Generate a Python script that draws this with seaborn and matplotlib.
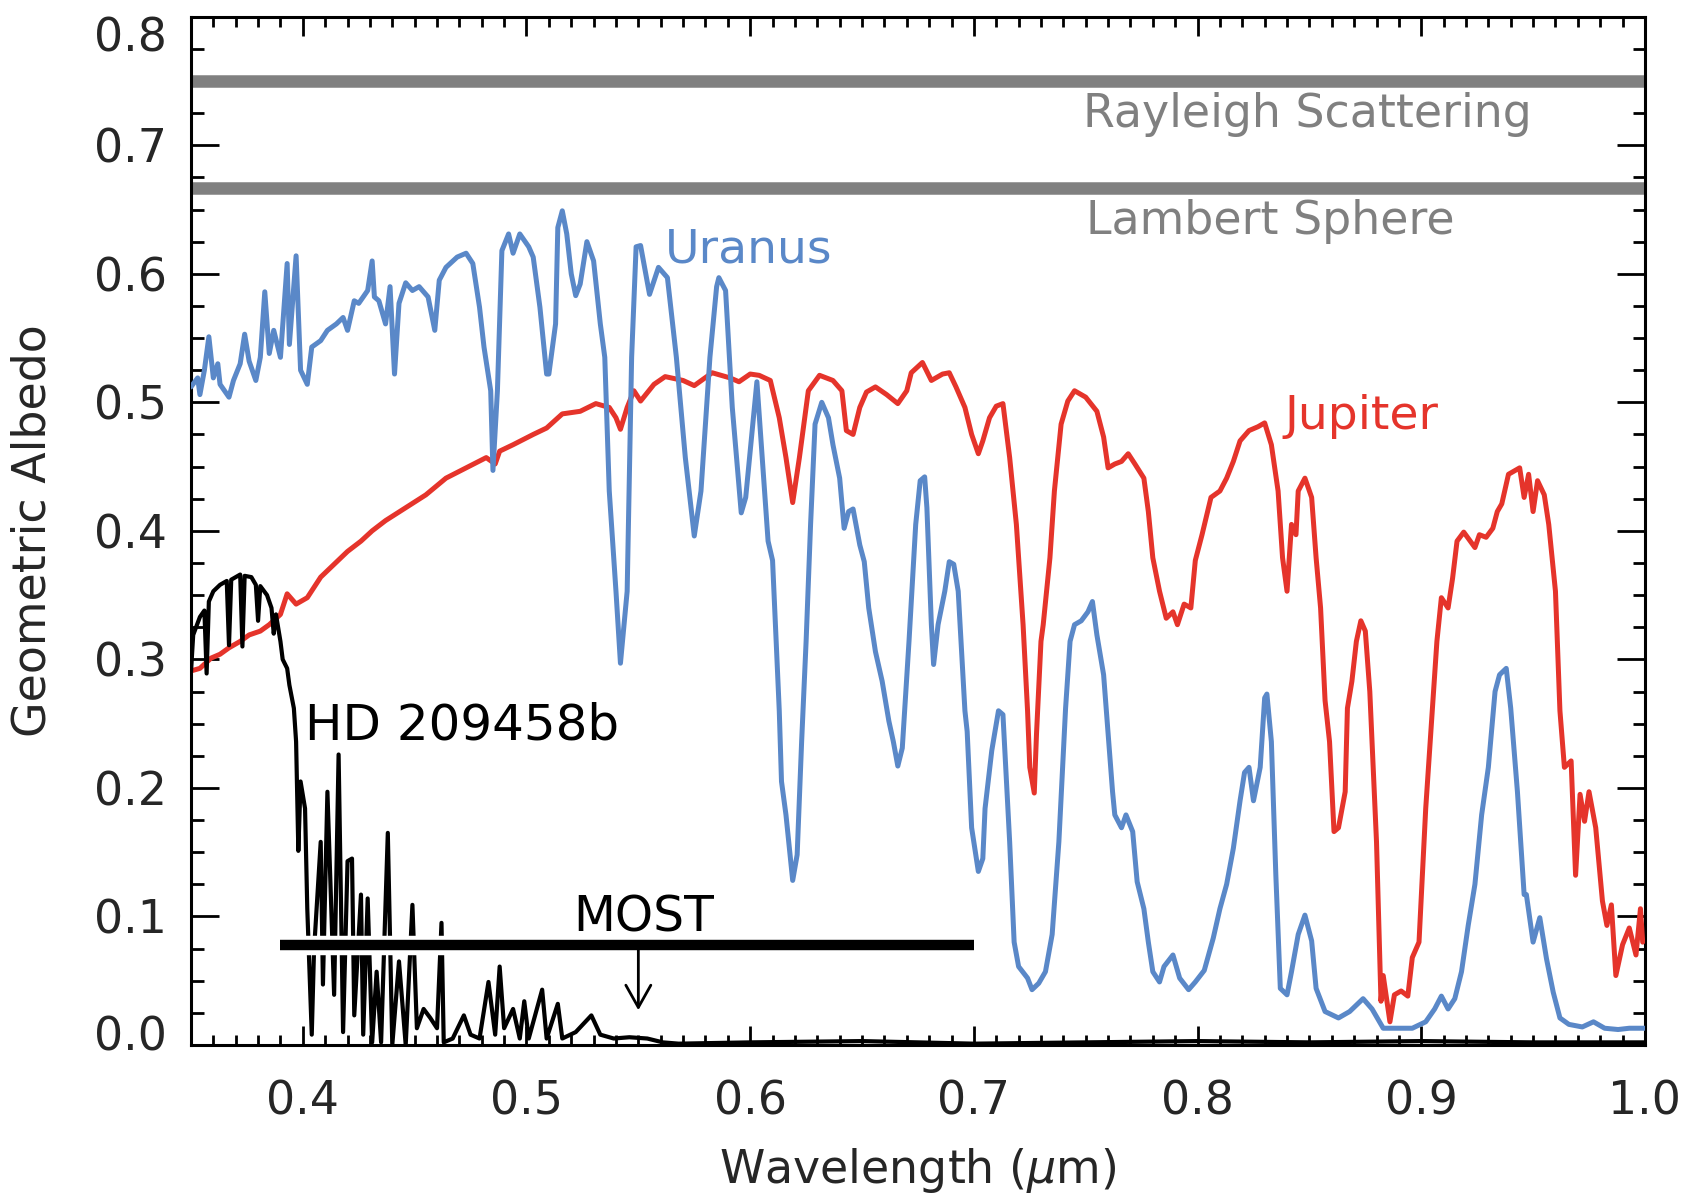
import matplotlib
matplotlib.use("Agg")
import matplotlib.pyplot as plt
import matplotlib.patheffects as pe
from matplotlib.ticker import MultipleLocator, FormatStrFormatter
from matplotlib.transforms import ScaledTranslation
import seaborn as sns
import pandas as pd

# geometric albedo spectra: (wavelength um, albedo)
uranus = [
    (0.350, 0.512), (0.353, 0.519), (0.354, 0.506), (0.356, 0.525), (0.358, 0.551),
    (0.360, 0.519), (0.362, 0.530), (0.363, 0.514), (0.365, 0.509), (0.367, 0.504),
    (0.369, 0.517), (0.372, 0.530), (0.374, 0.553), (0.376, 0.532), (0.379, 0.517),
    (0.381, 0.535), (0.383, 0.586), (0.385, 0.538), (0.387, 0.556), (0.390, 0.535),
    (0.393, 0.608), (0.394, 0.545), (0.397, 0.614), (0.399, 0.525), (0.402, 0.514),
    (0.404, 0.543), (0.408, 0.548), (0.411, 0.556), (0.415, 0.561), (0.418, 0.566),
    (0.420, 0.556), (0.423, 0.579), (0.425, 0.577), (0.429, 0.587), (0.431, 0.610),
    (0.432, 0.582), (0.434, 0.579), (0.437, 0.561), (0.439, 0.590), (0.441, 0.522),
    (0.443, 0.577), (0.446, 0.593), (0.449, 0.587), (0.452, 0.590), (0.456, 0.582),
    (0.459, 0.556), (0.461, 0.595), (0.464, 0.605), (0.469, 0.613), (0.473, 0.616),
    (0.476, 0.608), (0.479, 0.574), (0.481, 0.543), (0.484, 0.509), (0.485, 0.447),
    (0.487, 0.509), (0.489, 0.618), (0.492, 0.631), (0.494, 0.616), (0.497, 0.631),
    (0.501, 0.621), (0.503, 0.613), (0.506, 0.574), (0.509, 0.522), (0.510, 0.522),
    (0.513, 0.561), (0.514, 0.636), (0.516, 0.649), (0.518, 0.631), (0.520, 0.600),
    (0.522, 0.583), (0.524, 0.592), (0.527, 0.625), (0.530, 0.610), (0.533, 0.561),
    (0.535, 0.535), (0.537, 0.431), (0.540, 0.353), (0.542, 0.297), (0.545, 0.353),
    (0.547, 0.535), (0.549, 0.621), (0.551, 0.622), (0.555, 0.584), (0.559, 0.605),
    (0.563, 0.597), (0.567, 0.535), (0.571, 0.457), (0.575, 0.396), (0.578, 0.431),
    (0.582, 0.535), (0.585, 0.590), (0.586, 0.597), (0.589, 0.587), (0.592, 0.496),
    (0.596, 0.414), (0.598, 0.426), (0.603, 0.516), (0.608, 0.392), (0.610, 0.377),
    (0.613, 0.260), (0.614, 0.205), (0.616, 0.179), (0.619, 0.128), (0.621, 0.148),
    (0.623, 0.236), (0.625, 0.314), (0.627, 0.405), (0.629, 0.483), (0.632, 0.500),
    (0.635, 0.488), (0.637, 0.467), (0.640, 0.441), (0.642, 0.402), (0.644, 0.415),
    (0.646, 0.417), (0.649, 0.389), (0.651, 0.376), (0.653, 0.340), (0.656, 0.306),
    (0.659, 0.283), (0.662, 0.252), (0.664, 0.236), (0.666, 0.217), (0.668, 0.231),
    (0.671, 0.314), (0.674, 0.405), (0.676, 0.439), (0.678, 0.442), (0.679, 0.418),
    (0.681, 0.327), (0.682, 0.296), (0.684, 0.327), (0.687, 0.353), (0.689, 0.376),
    (0.691, 0.374), (0.693, 0.353), (0.696, 0.260), (0.697, 0.244), (0.699, 0.169),
    (0.702, 0.135), (0.704, 0.145), (0.705, 0.184), (0.708, 0.229), (0.711, 0.260),
    (0.713, 0.257), (0.716, 0.158), (0.718, 0.080), (0.720, 0.061), (0.724, 0.052),
    (0.726, 0.043), (0.729, 0.048), (0.732, 0.057), (0.735, 0.086), (0.738, 0.158),
    (0.741, 0.262), (0.743, 0.314), (0.745, 0.327), (0.748, 0.330), (0.751, 0.337),
    (0.753, 0.345), (0.755, 0.319), (0.758, 0.288), (0.762, 0.197), (0.763, 0.179),
    (0.766, 0.169), (0.768, 0.179), (0.771, 0.166), (0.773, 0.127), (0.776, 0.106),
    (0.778, 0.080), (0.780, 0.057), (0.783, 0.049), (0.785, 0.061), (0.789, 0.070),
    (0.792, 0.052), (0.796, 0.043), (0.799, 0.049), (0.803, 0.058), (0.807, 0.083),
    (0.810, 0.106), (0.813, 0.125), (0.816, 0.153), (0.819, 0.190), (0.821, 0.212),
    (0.823, 0.216), (0.825, 0.190), (0.828, 0.216), (0.830, 0.270), (0.831, 0.273),
    (0.833, 0.236), (0.835, 0.132), (0.837, 0.044), (0.840, 0.039), (0.842, 0.057),
    (0.845, 0.086), (0.848, 0.101), (0.851, 0.081), (0.853, 0.044), (0.857, 0.026),
    (0.863, 0.021), (0.868, 0.026), (0.874, 0.036), (0.878, 0.028), (0.883, 0.013),
    (0.889, 0.013), (0.896, 0.013), (0.902, 0.018), (0.906, 0.028), (0.909, 0.038),
    (0.912, 0.028), (0.915, 0.036), (0.918, 0.057), (0.921, 0.093), (0.924, 0.125),
    (0.927, 0.179), (0.930, 0.216), (0.933, 0.275), (0.935, 0.288), (0.938, 0.293),
    (0.940, 0.262), (0.943, 0.197), (0.946, 0.117), (0.947, 0.117), (0.950, 0.080),
    (0.953, 0.099), (0.956, 0.067), (0.959, 0.041), (0.962, 0.021), (0.966, 0.016),
    (0.972, 0.014), (0.977, 0.018), (0.982, 0.013), (0.988, 0.012), (0.993, 0.013),
    (0.998, 0.013), (1.000, 0.013),
]

jupiter = [
    (0.350, 0.291), (0.354, 0.293), (0.359, 0.301), (0.363, 0.304), (0.367, 0.309),
    (0.372, 0.314), (0.376, 0.319), (0.381, 0.322), (0.385, 0.327), (0.390, 0.335),
    (0.393, 0.351), (0.397, 0.343), (0.402, 0.348), (0.408, 0.364), (0.414, 0.374),
    (0.420, 0.384), (0.426, 0.392), (0.431, 0.400), (0.437, 0.408), (0.446, 0.418),
    (0.455, 0.428), (0.464, 0.441), (0.473, 0.449), (0.482, 0.457), (0.486, 0.452),
    (0.488, 0.462), (0.494, 0.467), (0.503, 0.475), (0.509, 0.480), (0.516, 0.491),
    (0.524, 0.493), (0.531, 0.499), (0.537, 0.496), (0.540, 0.488), (0.542, 0.479),
    (0.545, 0.496), (0.548, 0.509), (0.551, 0.501), (0.557, 0.514), (0.562, 0.520),
    (0.570, 0.517), (0.575, 0.513), (0.583, 0.523), (0.591, 0.519), (0.595, 0.516),
    (0.600, 0.522), (0.604, 0.521), (0.609, 0.517), (0.613, 0.488), (0.616, 0.457),
    (0.619, 0.422), (0.622, 0.457), (0.626, 0.509), (0.631, 0.521), (0.637, 0.517),
    (0.641, 0.509), (0.643, 0.478), (0.646, 0.475), (0.649, 0.496), (0.652, 0.508),
    (0.656, 0.512), (0.661, 0.506), (0.666, 0.499), (0.670, 0.509), (0.672, 0.523),
    (0.677, 0.531), (0.681, 0.517), (0.686, 0.522), (0.689, 0.523), (0.692, 0.512),
    (0.696, 0.496), (0.699, 0.475), (0.702, 0.460), (0.704, 0.470), (0.707, 0.488),
    (0.710, 0.497), (0.713, 0.499), (0.716, 0.457), (0.719, 0.405), (0.722, 0.327),
    (0.724, 0.260), (0.725, 0.216), (0.727, 0.196), (0.728, 0.242), (0.730, 0.314),
    (0.731, 0.327), (0.734, 0.379), (0.736, 0.431), (0.739, 0.483), (0.742, 0.501),
    (0.745, 0.509), (0.750, 0.504), (0.755, 0.493), (0.758, 0.473), (0.760, 0.449),
    (0.763, 0.452), (0.766, 0.454), (0.769, 0.460), (0.772, 0.452), (0.776, 0.441),
    (0.778, 0.415), (0.780, 0.379), (0.783, 0.353), (0.786, 0.332), (0.789, 0.337),
    (0.791, 0.327), (0.794, 0.343), (0.797, 0.340), (0.799, 0.377), (0.802, 0.397),
    (0.806, 0.426), (0.810, 0.431), (0.813, 0.441), (0.816, 0.454), (0.819, 0.470),
    (0.823, 0.478), (0.827, 0.481), (0.830, 0.484), (0.833, 0.467), (0.836, 0.431),
    (0.838, 0.379), (0.840, 0.353), (0.842, 0.405), (0.844, 0.397), (0.845, 0.431),
    (0.848, 0.441), (0.851, 0.426), (0.853, 0.379), (0.855, 0.340), (0.857, 0.268),
    (0.859, 0.236), (0.861, 0.166), (0.863, 0.169), (0.866, 0.197), (0.867, 0.262),
    (0.869, 0.283), (0.871, 0.314), (0.873, 0.330), (0.875, 0.322), (0.877, 0.275),
    (0.880, 0.158), (0.882, 0.034), (0.883, 0.054), (0.886, 0.018), (0.888, 0.039),
    (0.891, 0.042), (0.894, 0.038), (0.896, 0.068), (0.899, 0.080), (0.902, 0.184),
    (0.905, 0.262), (0.907, 0.314), (0.909, 0.348), (0.912, 0.340), (0.914, 0.363),
    (0.916, 0.392), (0.919, 0.399), (0.924, 0.387), (0.926, 0.397), (0.929, 0.395),
    (0.932, 0.402), (0.934, 0.415), (0.936, 0.421), (0.939, 0.444), (0.944, 0.449),
    (0.946, 0.426), (0.948, 0.444), (0.950, 0.415), (0.952, 0.439), (0.955, 0.428),
    (0.957, 0.405), (0.960, 0.353), (0.962, 0.260), (0.964, 0.216), (0.967, 0.221),
    (0.969, 0.132), (0.971, 0.195), (0.973, 0.174), (0.975, 0.197), (0.978, 0.169),
    (0.981, 0.112), (0.983, 0.093), (0.985, 0.109), (0.987, 0.054), (0.990, 0.078),
    (0.993, 0.091), (0.996, 0.070), (0.998, 0.106), (0.999, 0.080),
]

hd209458b = [
    (0.350, 0.290), (0.351, 0.319), (0.354, 0.333), (0.356, 0.338), (0.357, 0.289),
    (0.358, 0.345), (0.360, 0.353), (0.363, 0.358), (0.366, 0.361), (0.367, 0.311),
    (0.368, 0.362), (0.372, 0.366), (0.373, 0.310), (0.374, 0.365), (0.377, 0.364),
    (0.379, 0.358), (0.380, 0.330), (0.381, 0.357), (0.384, 0.350), (0.386, 0.340),
    (0.387, 0.320), (0.388, 0.335), (0.390, 0.314), (0.391, 0.300), (0.393, 0.293),
    (0.394, 0.280), (0.396, 0.262), (0.397, 0.236), (0.398, 0.151), (0.399, 0.205),
    (0.401, 0.184), (0.402, 0.106), (0.404, 0.008), (0.405, 0.073), (0.408, 0.158),
    (0.409, 0.047), (0.411, 0.197), (0.414, 0.039), (0.416, 0.226), (0.418, 0.010),
    (0.420, 0.143), (0.422, 0.145), (0.423, 0.023), (0.426, 0.117), (0.427, 0.008),
    (0.429, 0.114), (0.431, 0.002), (0.433, 0.057), (0.435, 0.002), (0.438, 0.165),
    (0.440, 0.000), (0.443, 0.065), (0.446, 0.000), (0.449, 0.109), (0.451, 0.013),
    (0.454, 0.028), (0.457, 0.021), (0.460, 0.013), (0.462, 0.095), (0.463, 0.002),
    (0.467, 0.005), (0.472, 0.023), (0.475, 0.008), (0.479, 0.005), (0.483, 0.049),
    (0.486, 0.008), (0.488, 0.061), (0.490, 0.013), (0.494, 0.028), (0.497, 0.005),
    (0.499, 0.034), (0.501, 0.005), (0.507, 0.043), (0.509, 0.005), (0.514, 0.032),
    (0.516, 0.005), (0.522, 0.010), (0.529, 0.023), (0.533, 0.008), (0.539, 0.005),
    (0.546, 0.006), (0.554, 0.005), (0.561, 0.002), (0.568, 0.001), (0.600, 0.002),
    (0.650, 0.003), (0.700, 0.001), (0.750, 0.002), (0.800, 0.003), (0.850, 0.002),
    (0.900, 0.003), (0.950, 0.002), (1.000, 0.002),
]

rayleigh_albedo = 0.75
lambert_albedo = 0.667
most_band = (0.39, 0.70)
most_level = 0.078
most_center = 0.55
most_upper_limit = 0.027

blue = "#5a88c8"
red = "#e5342b"
gray = "#808080"

sns.set_style("ticks")
plt.rcParams["font.family"] = ["DejaVu Sans"]
plt.rcParams["mathtext.fontset"] = "dejavusans"

fig = plt.figure(figsize=(16.84, 11.96), dpi=100)
ax = fig.add_axes([0.1134, 0.1263, 0.8634, 0.8597])

# reference albedo levels
ax.axhline(rayleigh_albedo, color=gray, lw=9, zorder=1)
ax.axhline(lambert_albedo, color=gray, lw=9, zorder=1)

def to_df(pairs):
    return pd.DataFrame(pairs, columns=["wavelength", "albedo"])

sns.lineplot(data=to_df(jupiter), x="wavelength", y="albedo", sort=False,
             estimator=None, color=red, lw=3.6, ax=ax, zorder=3)
sns.lineplot(data=to_df(uranus), x="wavelength", y="albedo", sort=False,
             estimator=None, color=blue, lw=3.6, ax=ax, zorder=4)
sns.lineplot(data=to_df(hd209458b), x="wavelength", y="albedo", sort=False,
             estimator=None, color="black", lw=3, ax=ax, zorder=5)

# MOST band limit
ax.plot(most_band, [most_level, most_level], color="black", lw=7.5,
        solid_capstyle="butt", zorder=6,
        path_effects=[pe.Stroke(linewidth=14, foreground="white"), pe.Normal()])
ax.annotate("", xy=(most_center, most_upper_limit), xytext=(most_center, most_level),
            arrowprops=dict(arrowstyle="->,head_length=0.8,head_width=0.45",
                            color="black", lw=2, mutation_scale=20,
                            shrinkA=0, shrinkB=0), zorder=6)

# labels
ax.text(0.749, 0.714, "Rayleigh Scattering", color=gray, fontsize=33, va="baseline")
ax.text(0.750, 0.631, "Lambert Sphere", color=gray, fontsize=33, va="baseline")
ax.text(0.562, 0.609, "Uranus", color=blue, fontsize=34, va="baseline")
ax.text(0.839, 0.479, "Jupiter", color=red, fontsize=34, va="baseline")
ax.text(0.401, 0.238, "HD 209458b", color="black", fontsize=36, va="baseline")
ax.text(0.521, 0.088, "MOST", color="black", fontsize=35, va="baseline")

ax.set_xlim(0.35, 1.0)
ax.set_ylim(0.0, 0.8)
ax.set_xticks([0.4, 0.5, 0.6, 0.7, 0.8, 0.9, 1.0])
ax.set_yticks([0.0, 0.1, 0.2, 0.3, 0.4, 0.5, 0.6, 0.7, 0.8])
ax.xaxis.set_minor_locator(MultipleLocator(0.01))
ax.yaxis.set_minor_locator(MultipleLocator(0.025))
ax.xaxis.set_major_formatter(FormatStrFormatter("%.1f"))
ax.yaxis.set_major_formatter(FormatStrFormatter("%.1f"))

ax.tick_params(axis="both", which="both", direction="in", top=True, right=True,
               width=2, labelsize=33, color="black")
ax.tick_params(axis="x", which="major", length=14, pad=25)
ax.tick_params(axis="x", which="minor", length=7)
ax.tick_params(axis="y", which="major", length=20, pad=17)
ax.tick_params(axis="y", which="minor", length=9)
for side in ax.spines.values():
    side.set_linewidth(2.2)
    side.set_color("black")

ax.set_xlabel("Wavelength ($\\mu$m)", fontsize=33)
ax.set_ylabel("Geometric Albedo", fontsize=33)
ax.xaxis.set_label_coords(0.5, -0.098)
ax.yaxis.set_label_coords(-0.093, 0.5)

# end labels nudged inside the frame, like the original
yt = ax.yaxis.get_major_ticks()
yt[0].label1.set_transform(yt[0].label1.get_transform()
                           + ScaledTranslation(0, 0.12, fig.dpi_scale_trans))
yt[-1].label1.set_transform(yt[-1].label1.get_transform()
                            + ScaledTranslation(0, -0.17, fig.dpi_scale_trans))

fig.savefig("out.png", dpi=100)
